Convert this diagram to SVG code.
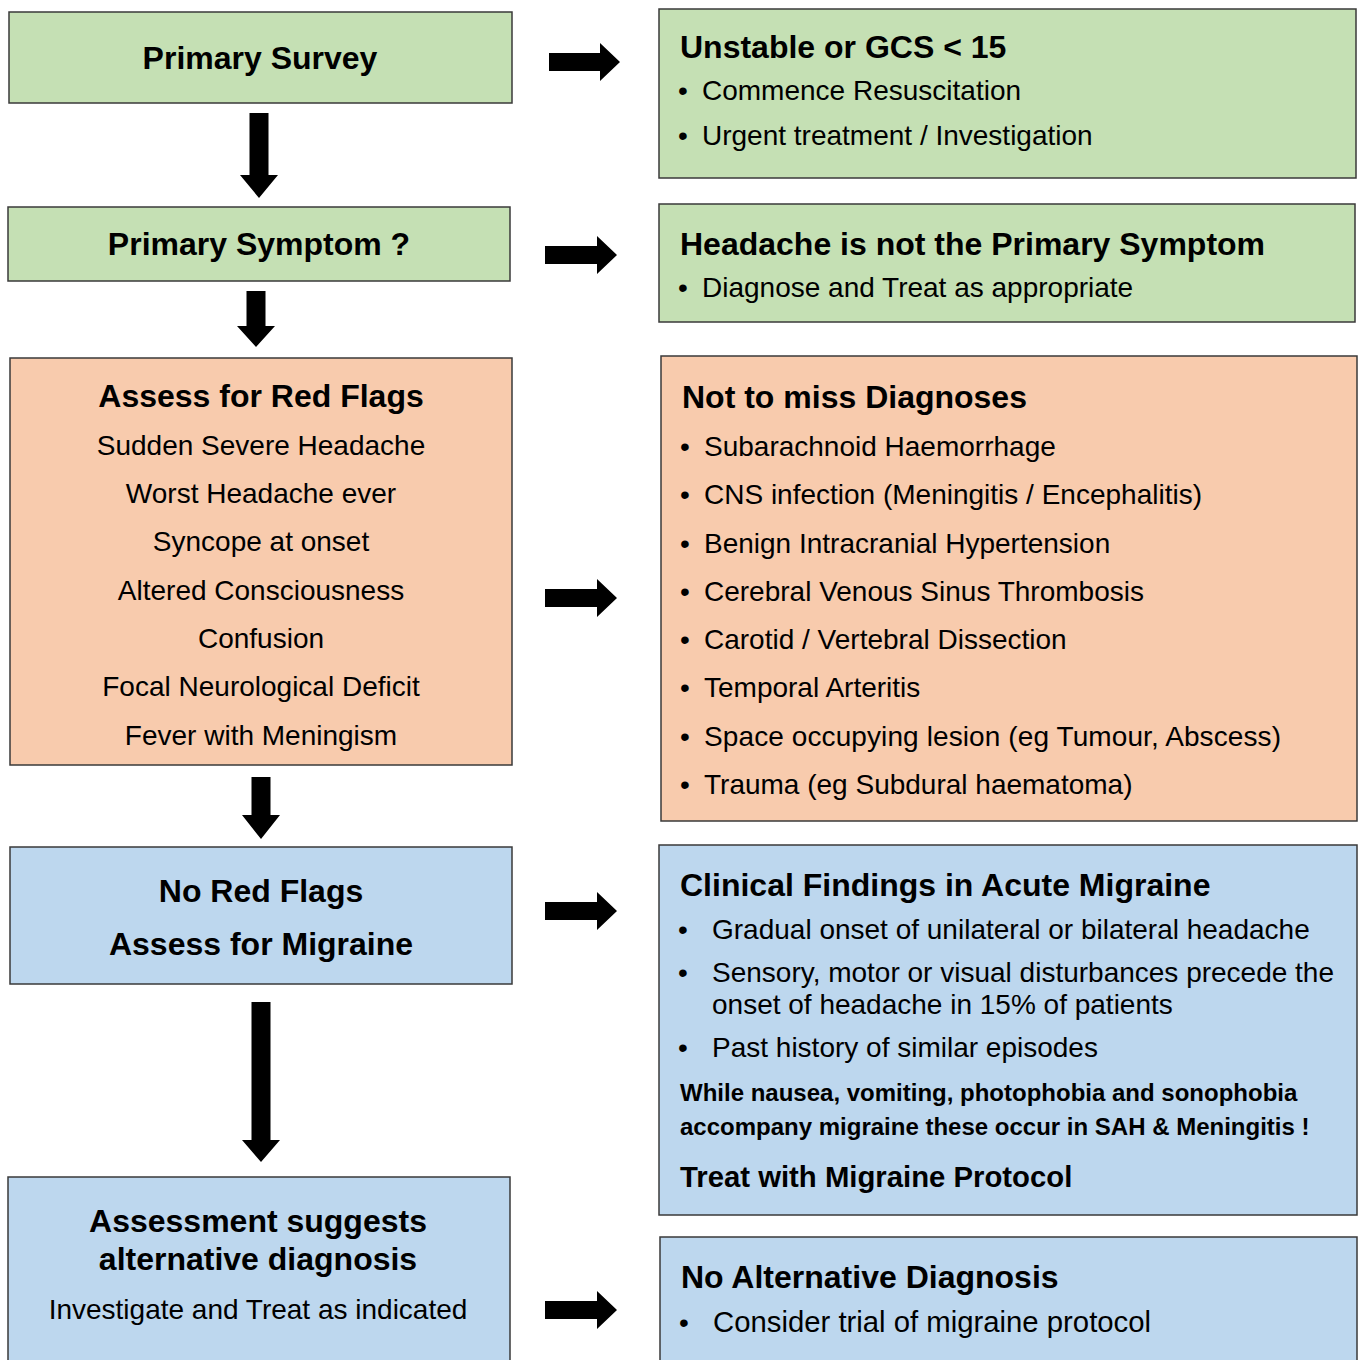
<svg xmlns="http://www.w3.org/2000/svg" width="1360" height="1360" viewBox="0 0 1360 1360">
<style>
.box{stroke:#3a3a3a;stroke-width:1.5}
.g{fill:#c5e0b4}.o{fill:#f8cbad}.b{fill:#bdd7ee}
text{font-family:"Liberation Sans",Arial,Helvetica,sans-serif;fill:#000}
.h{font-size:32px;font-weight:bold}
.t{font-size:28px}
.s{font-size:24px;font-weight:bold}
.m{text-anchor:middle}
.arr{fill:#000}
</style>
<rect width="1360" height="1360" fill="#fff"/>
<g id="primary-survey">
<rect class="box g" x="9" y="12" width="503" height="91"/>
<text class="h m" x="260" y="69">Primary Survey</text>
</g>
<g id="primary-symptom">
<rect class="box g" x="8" y="207" width="502" height="74"/>
<text class="h m" x="259" y="255">Primary Symptom ?</text>
</g>
<g id="red-flags">
<rect class="box o" x="10" y="358" width="502" height="407"/>
<text class="h m" x="261" y="407">Assess for Red Flags</text>
<text class="t m" x="261" y="455">Sudden Severe Headache</text>
<text class="t m" x="261" y="503">Worst Headache ever</text>
<text class="t m" x="261" y="551">Syncope at onset</text>
<text class="t m" x="261" y="600">Altered Consciousness</text>
<text class="t m" x="261" y="648">Confusion</text>
<text class="t m" x="261" y="696">Focal Neurological Deficit</text>
<text class="t m" x="261" y="745">Fever with Meningism</text>
</g>
<g id="no-red-flags">
<rect class="box b" x="10" y="847" width="502" height="137"/>
<text class="h m" x="261" y="902">No Red Flags</text>
<text class="h m" x="261" y="955">Assess for Migraine</text>
</g>
<g id="alternative">
<rect class="box b" x="8" y="1177" width="502" height="200"/>
<text class="h m" x="258" y="1232">Assessment suggests</text>
<text class="h m" x="258" y="1270">alternative diagnosis</text>
<text class="t m" x="258" y="1319">Investigate and Treat as indicated</text>
</g>
<g id="unstable">
<rect class="box g" x="659" y="9" width="697" height="169"/>
<text class="h" x="680" y="58">Unstable or GCS &lt; 15</text>
<g class="t">
<text x="678" y="100">•</text><text x="702" y="100">Commence Resuscitation</text>
<text x="678" y="145">•</text><text x="702" y="145">Urgent treatment / Investigation</text>
</g>
</g>
<g id="not-primary">
<rect class="box g" x="659" y="204" width="696" height="118"/>
<text class="h" x="680" y="255">Headache is not the Primary Symptom</text>
<text class="t" x="678" y="297">•</text><text class="t" x="702" y="297">Diagnose and Treat as appropriate</text>
</g>
<g id="not-to-miss">
<rect class="box o" x="661" y="356" width="696" height="465"/>
<text class="h" x="682" y="408">Not to miss Diagnoses</text>
<g class="t">
<text x="680" y="456">•</text><text x="704" y="456">Subarachnoid Haemorrhage</text>
<text x="680" y="504">•</text><text x="704" y="504">CNS infection (Meningitis / Encephalitis)</text>
<text x="680" y="553">•</text><text x="704" y="553">Benign Intracranial Hypertension</text>
<text x="680" y="601">•</text><text x="704" y="601">Cerebral Venous Sinus Thrombosis</text>
<text x="680" y="649">•</text><text x="704" y="649">Carotid / Vertebral Dissection</text>
<text x="680" y="697">•</text><text x="704" y="697">Temporal Arteritis</text>
<text x="680" y="746">•</text><text x="704" y="746" textLength="577">Space occupying lesion (eg Tumour, Abscess)</text>
<text x="680" y="794">•</text><text x="704" y="794">Trauma (eg Subdural haematoma)</text>
</g>
</g>
<g id="clinical-findings">
<rect class="box b" x="659" y="845" width="698" height="370"/>
<text class="h" x="680" y="896">Clinical Findings in Acute Migraine</text>
<g class="t">
<text x="678" y="939">•</text><text x="712" y="939">Gradual onset of unilateral or bilateral headache</text>
<text x="678" y="982">•</text><text x="712" y="982">Sensory, motor or visual disturbances precede the</text>
<text x="712" y="1014">onset of headache in 15% of patients</text>
<text x="678" y="1057">•</text><text x="712" y="1057">Past history of similar episodes</text>
</g>
<text class="s" x="680" y="1101">While nausea, vomiting, photophobia and sonophobia</text>
<text class="s" x="680" y="1135">accompany migraine these occur in SAH &amp; Meningitis !</text>
<text class="h" x="680" y="1187" style="font-size:29.3px">Treat with Migraine Protocol</text>
</g>
<g id="no-alternative">
<rect class="box b" x="660" y="1237" width="697" height="140"/>
<text class="h" x="681" y="1288">No Alternative Diagnosis</text>
<text class="t" x="679" y="1332">•</text><text class="t" x="713" y="1332" style="font-size:29.3px">Consider trial of migraine protocol</text>
</g>
<g id="connectors" class="arr">
<polygon points="249.5,113 268.5,113 268.5,175 278,175 259,198 240,175 249.5,175"/>
<polygon points="246.5,291 265.5,291 265.5,326 275,326 256,347 237,326 246.5,326"/>
<polygon points="251.5,777 270.5,777 270.5,815 280,815 261,839 242,815 251.5,815"/>
<polygon points="251.5,1002 270.5,1002 270.5,1140 280,1140 261,1162 242,1140 251.5,1140"/>
<polygon points="549,53 600,53 600,43 620,62 600,81 600,71 549,71"/>
<polygon points="545,246 597,246 597,236 617,255 597,274 597,264 545,264"/>
<polygon points="545,589 597,589 597,579 617,598 597,617 597,607 545,607"/>
<polygon points="545,902 597,902 597,892 617,911 597,930 597,920 545,920"/>
<polygon points="545,1301 597,1301 597,1291 617,1310 597,1329 597,1319 545,1319"/>
</g>
</svg>
